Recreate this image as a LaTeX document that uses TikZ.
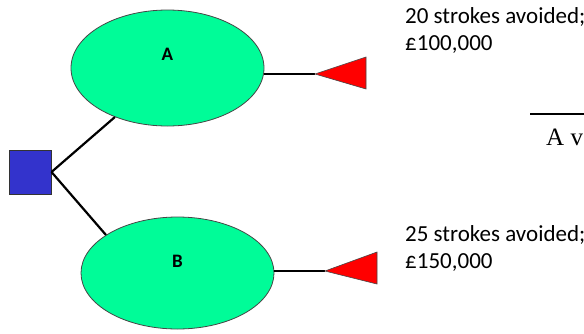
\documentclass[tikz,border=0pt]{standalone}
\usepackage{fontspec}
\setmainfont{Carlito}
\newfontfamily\serifB{Liberation Serif}
\usetikzlibrary{shapes.geometric}
\definecolor{ellgreen}{RGB}{0,252,152}
\definecolor{sqblue}{RGB}{51,51,204}
\definecolor{edgegrey}{RGB}{70,70,70}
\tikzset{
  ell/.style={ellipse, draw=edgegrey, line width=0.8pt, fill=ellgreen, minimum width=193pt, minimum height=116pt, inner sep=0pt},
  sq/.style={rectangle, draw=black!80, line width=1pt, fill=sqblue, minimum width=42pt, minimum height=44pt, inner sep=0pt},
  conn/.style={draw=black, line width=2.2pt},
  tri/.style={draw=edgegrey, line width=0.6pt, fill=red, line join=miter},
  lbl/.style={font=\bfseries\fontsize{19}{22}\selectfont},
  outcome/.style={anchor=base west, align=left, inner sep=0pt, font=\fontsize{23}{27}\selectfont}
}
\begin{document}
\begin{tikzpicture}[x=1pt,y=-1pt]
\useasboundingbox (0,0) rectangle (584,333);
\node[ell] (A) at (167.5,68) {};
\node[ell, minimum height=112pt] (B) at (177.5,273) {};
\node[lbl] (la) at (167.5,54) {A};
\node[lbl] (lb) at (177.5,261) {B};
\node[sq] (S) at (30,172) {};
\coordinate (tA) at (315,74);
\coordinate (tB) at (325,271);
\draw[conn] (S.east) -- (A.223);
\draw[conn] (S.east) -- (B.152);
\draw[conn] (A.east |- tA) -- (tA);
\draw[conn] (B.east |- tB) -- (tB);
\draw[tri] (tA) -- ++(51,-17) -- ++(0,32) -- cycle;
\draw[tri] (tB) -- ++(52,-19) -- ++(0,32) -- cycle;
\node[outcome] (oa) at (405,50) {20 strokes avoided;\\£100,000};
\node[outcome] (ob) at (405,268) {25 strokes avoided;\\£150,000};
\coordinate (r1) at (530,114);
\coordinate (r2) at (584,114);
\draw[line width=1.3pt] (r1) -- (r2);
\node[anchor=base west, inner sep=0pt, font=\serifB\fontsize{25}{30}\selectfont] (av) at (546,145) {A v};
\end{tikzpicture}
\end{document}
